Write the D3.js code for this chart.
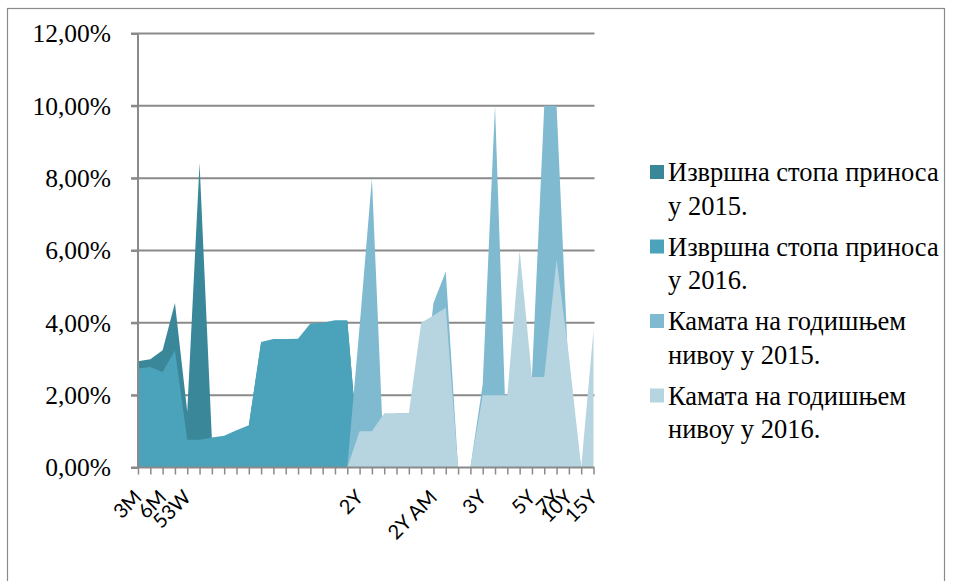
<!DOCTYPE html>
<html>
<head>
<meta charset="utf-8">
<script src="https://cdn.jsdelivr.net/npm/d3@7"></script>
<style>
  html, body { margin: 0; padding: 0; background: #fff; }
  svg { display: block; }
</style>
</head>
<body>
<svg id="chart" width="953" height="581"></svg>
<script>
// ---- Data ----
const categories = ["3M","","6M","","53W","","","","","","","","","","","","","","2Y","","","","","","2Y AM","","","","3Y","","","","5Y","","7Y","10Y","","15Y"];

const yield2015 = [2.94,2.99,3.24,4.55,1.54,8.42,0.80,0.85,1.00,1.15,3.45,3.52,3.53,3.54,3.95,3.97,4.05,4.05,0,0,0,0,0,0,0,0,0,0,0,0,0,0,0,0,0,0,0,0];
const yield2016 = [2.74,2.78,2.64,3.24,0.77,0.77,0.83,0.88,1.03,1.17,3.47,3.55,3.55,3.56,3.98,4.00,4.07,4.07,0,0,0,0,0,0,0,0,0,0,0,0,0,0,0,0,0,0,0,0];
const interest2015 = [0,0,0,0,0,0,0,0,0,0,0,0,0,0,0,0,0,0,3.9,8.0,0,1.5,1.5,1.5,4.55,5.42,0,0,2.3,10.0,0,0,2.5,10.0,10.0,2.4,0,0];
const interest2016 = [0,0,0,0,0,0,0,0,0,0,0,0,0,0,0,0,0,0,1.0,1.0,1.5,1.5,1.5,4.0,4.2,4.42,0,0,2.0,2.0,2.0,6.0,2.5,2.5,5.75,3.1,0,3.8];

const seriesNames = [
  ["Извршна стопа приноса", "у 2015."],
  ["Извршна стопа приноса", "у 2016."],
  ["Камата на годишњем", "нивоу у 2015."],
  ["Камата на годишњем", "нивоу у 2016."]
];
const seriesColors = ["#3a8799", "#4aa3ba", "#7fbad0", "#b7d5e0"];
const yTicks = [0, 2, 4, 6, 8, 10, 12];

const allSeries = [yield2015, yield2016, interest2015, interest2016];

// ---- Layout ----
const svg = d3.select("#chart");
const plotLeft = 138, plotRight = 593.5, plotTop = 33.5, plotBottom = 467.5;
const gray = "#8a8a8a";

// outer border
svg.append("rect")
  .attr("x", 7.5).attr("y", 8.5).attr("width", 937).attr("height", 600)
  .attr("fill", "none").attr("stroke", gray).attr("stroke-width", 1.2);

const x = d3.scalePoint().domain(d3.range(categories.length)).range([plotLeft, plotRight]);
const y = d3.scaleLinear().domain([0, 12]).range([plotBottom, plotTop]);

// gridlines
svg.append("g").selectAll("line").data(yTicks.filter(t => t > 0)).join("line")
  .attr("x1", 131).attr("x2", plotRight + 1)
  .attr("y1", d => y(d)).attr("y2", d => y(d))
  .attr("stroke", gray).attr("stroke-width", 2);

// areas
const area = d3.area()
  .x((d, i) => x(i))
  .y0(y(0))
  .y1(d => y(d));

svg.append("g").selectAll("path").data(allSeries).join("path")
  .attr("d", d => area(d))
  .attr("fill", (d, i) => seriesColors[i]);

// y axis
const yAxis = d3.axisLeft(y).tickValues(yTicks).tickSize(7)
  .tickFormat(d => d.toFixed(2).replace(".", ",") + "%");
const gy = svg.append("g").attr("transform", `translate(${plotLeft},0)`).call(yAxis);
gy.select(".domain").attr("stroke", gray).attr("stroke-width", 2).attr("d", `M0,${plotTop}V${plotBottom}`);
gy.selectAll(".tick line").attr("stroke", gray).attr("stroke-width", 2);
gy.selectAll(".tick text")
  .attr("x", -27)
  .attr("font-family", "'Liberation Serif', 'Times New Roman', serif")
  .attr("font-size", 25.5)
  .attr("fill", "#000");

// x axis
const xAxis = d3.axisBottom(x).tickSize(7).tickFormat(() => "");
const gx = svg.append("g").attr("transform", `translate(0,${plotBottom})`).call(xAxis);
gx.select(".domain").attr("stroke", gray).attr("stroke-width", 2).attr("d", `M131,0H${plotRight + 1}`);
gx.selectAll(".tick line").attr("stroke", gray).attr("stroke-width", 1.5);

// rotated category labels
svg.append("g").selectAll("text").data(categories.map((c, i) => ({c, i})).filter(d => d.c !== "")).join("text")
  .attr("transform", d => `translate(${x(d.i) + 5},${plotBottom + 31}) rotate(-45)`)
  .attr("text-anchor", "end")
  .attr("font-family", "Lato, 'Open Sans', sans-serif")
  .attr("font-size", 20)
  .attr("fill", "#000")
  .text(d => d.c);

// legend
const legend = svg.append("g").selectAll("g").data(seriesNames).join("g")
  .attr("transform", (d, i) => `translate(650,${181 + i * 74.5})`);
legend.append("rect")
  .attr("x", 0).attr("y", -16).attr("width", 14).attr("height", 14)
  .attr("fill", (d, i) => seriesColors[i]);
legend.append("text")
  .attr("font-family", "'Liberation Serif', 'Times New Roman', serif")
  .attr("font-size", 26.5)
  .attr("fill", "#000")
  .selectAll("tspan").data(d => d).join("tspan")
  .attr("x", 18).attr("y", (d, i) => i * 33.5)
  .text(d => d);
</script>
</body>
</html>
